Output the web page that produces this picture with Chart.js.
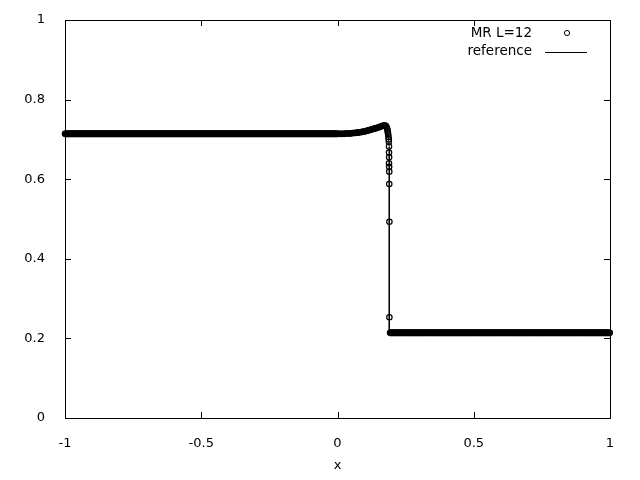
<!DOCTYPE html>
<html>
<head>
<meta charset="utf-8">
<script src="https://cdn.jsdelivr.net/npm/chart.js@4/dist/chart.umd.min.js"></script>
<style>
  html, body { margin: 0; padding: 0; background: #fff; }
  #wrap { width: 640px; height: 480px; }
</style>
</head>
<body>
<div id="wrap"><canvas id="shock-chart" width="640" height="480"></canvas></div>
<script>
// MR L=12 solution vs reference (shock tube, piecewise constant states + bump near the shock)
const meshStep = 0.002;
const leftState = 0.714;
const rightState = 0.214;
const leftRange = [-1, -0.002];
const rightRange = [0.193, 1];

// points in the structured region (x, value)
const bumpX = [0.000, 0.005, 0.010, 0.015, 0.020, 0.025, 0.030, 0.035, 0.040, 0.045,
  0.050, 0.055, 0.060, 0.065, 0.070, 0.075, 0.080, 0.085, 0.090, 0.095,
  0.100, 0.105, 0.110, 0.115, 0.120, 0.125, 0.130, 0.135, 0.140, 0.145,
  0.150, 0.155, 0.160, 0.165, 0.170, 0.174, 0.177, 0.180, 0.182, 0.184,
  0.185, 0.186, 0.187, 0.188, 0.1885, 0.189, 0.189, 0.1895, 0.189, 0.1895,
  0.190, 0.190, 0.1905, 0.1905];
const bumpY = [0.714, 0.714, 0.714, 0.714, 0.714, 0.714, 0.715, 0.715, 0.715, 0.715,
  0.715, 0.716, 0.716, 0.716, 0.717, 0.717, 0.718, 0.718, 0.719, 0.720,
  0.720, 0.721, 0.722, 0.723, 0.724, 0.725, 0.726, 0.727, 0.728, 0.729,
  0.730, 0.731, 0.733, 0.734, 0.735, 0.735, 0.734, 0.731, 0.727, 0.722,
  0.717, 0.712, 0.706, 0.700, 0.694, 0.682, 0.667, 0.655, 0.640, 0.631,
  0.619, 0.588, 0.493, 0.253];

// reference solution follows the same profile and drops at x = 0.19
const refX = [-1, 0.00, 0.05, 0.08, 0.10, 0.12, 0.14, 0.16, 0.17, 0.175, 0.18, 0.184, 0.187, 0.19, 0.19, 1];
const refY = [0.714, 0.714, 0.715, 0.718, 0.720, 0.724, 0.728, 0.733, 0.735, 0.735, 0.731, 0.722, 0.706, 0.68, 0.214, 0.214];

const xTicks = [-1, -0.5, 0, 0.5, 1];
const xTickLabels = ['-1', '-0.5', '0', '0.5', '1'];
const yTicks = [0, 0.2, 0.4, 0.6, 0.8, 1];
const yTickLabels = ['0', '0.2', '0.4', '0.6', '0.8', '1'];

const FONT = { family: 'DejaVu Sans', size: 13 };

function flatPoints(range, value) {
  const pts = [];
  const n = Math.round((range[1] - range[0]) / meshStep);
  for (let i = 0; i <= n; i++) {
    pts.push({ x: range[0] + i * meshStep, y: value });
  }
  return pts;
}

const mrPoints = flatPoints(leftRange, leftState)
  .concat(bumpX.map((x, i) => ({ x, y: bumpY[i] })))
  .concat(flatPoints(rightRange, rightState));

const refPoints = refX.map((x, i) => ({ x, y: refY[i] }));

// gnuplot-like frame: border box + inward ticks on all four sides
const framePlugin = {
  id: 'frame',
  afterDraw(chart) {
    const { ctx, chartArea: a, scales } = chart;
    const len = 6;
    ctx.save();
    ctx.strokeStyle = '#000';
    ctx.lineWidth = 1;
    ctx.beginPath();
    xTicks.forEach((v) => {
      const px = Math.round(scales.x.getPixelForValue(v)) + 0.5;
      ctx.moveTo(px, a.bottom); ctx.lineTo(px, a.bottom - len);
      ctx.moveTo(px, a.top); ctx.lineTo(px, a.top + len);
    });
    yTicks.forEach((v) => {
      const py = Math.round(scales.y.getPixelForValue(v)) + 0.5;
      ctx.moveTo(a.left, py); ctx.lineTo(a.left + len, py);
      ctx.moveTo(a.right, py); ctx.lineTo(a.right - len, py);
    });
    ctx.stroke();
    ctx.strokeRect(Math.round(a.left) + 0.5, Math.round(a.top) + 0.5,
      Math.round(a.right - a.left), Math.round(a.bottom - a.top));

    // key, top right, text right-aligned before the sample
    const ds = chart.data.datasets;
    ctx.font = `13.5px ${FONT.family}`;
    ctx.fillStyle = '#000';
    ctx.textAlign = 'right';
    ctx.textBaseline = 'middle';
    ctx.fillText(ds[0].label, 532, 33);
    ctx.fillText(ds[1].label, 532, 51);
    ctx.beginPath();
    ctx.arc(567, 33, 2.6, 0, Math.PI * 2);
    ctx.stroke();
    ctx.beginPath();
    ctx.moveTo(545, 52.5); ctx.lineTo(587, 52.5);
    ctx.stroke();
    ctx.restore();
  }
};

new Chart(document.getElementById('shock-chart'), {
  type: 'scatter',
  data: {
    datasets: [{
      label: 'MR L=12',
      data: mrPoints,
      pointStyle: 'circle',
      pointRadius: 2.7,
      pointBorderWidth: 1.2,
      borderColor: '#000',
      backgroundColor: 'rgba(0,0,0,0)',
      clip: false
    }, {
      label: 'reference',
      data: refPoints,
      showLine: true,
      pointRadius: 0,
      borderWidth: 1,
      borderColor: '#000',
      backgroundColor: '#000',
      clip: false
    }]
  },
  options: {
    responsive: false,
    animation: false,
    layout: { padding: { top: 20, right: 30, bottom: 0, left: 0 } },
    plugins: {
      legend: { display: false },
      tooltip: { enabled: false }
    },
    scales: {
      x: {
        type: 'linear',
        min: -1,
        max: 1,
        grid: { display: false },
        border: { display: false },
        afterBuildTicks: (scale) => { scale.ticks = xTicks.map((v) => ({ value: v })); },
        afterFit: (scale) => { scale.height = 62; },
        ticks: {
          color: '#000',
          font: FONT,
          padding: 10,
          maxRotation: 0,
          callback: (v) => xTickLabels[xTicks.indexOf(v)]
        },
        title: {
          display: true,
          text: 'x',
          color: '#000',
          font: FONT,
          padding: { top: 0, bottom: 7 }
        }
      },
      y: {
        type: 'linear',
        min: 0,
        max: 1,
        grid: { display: false },
        border: { display: false },
        afterBuildTicks: (scale) => { scale.ticks = yTicks.map((v) => ({ value: v })); },
        afterFit: (scale) => { scale.width = 65; },
        ticks: {
          color: '#000',
          font: FONT,
          padding: 12,
          callback: (v) => yTickLabels[yTicks.indexOf(v)]
        }
      }
    }
  },
  plugins: [framePlugin]
});
</script>
</body>
</html>
